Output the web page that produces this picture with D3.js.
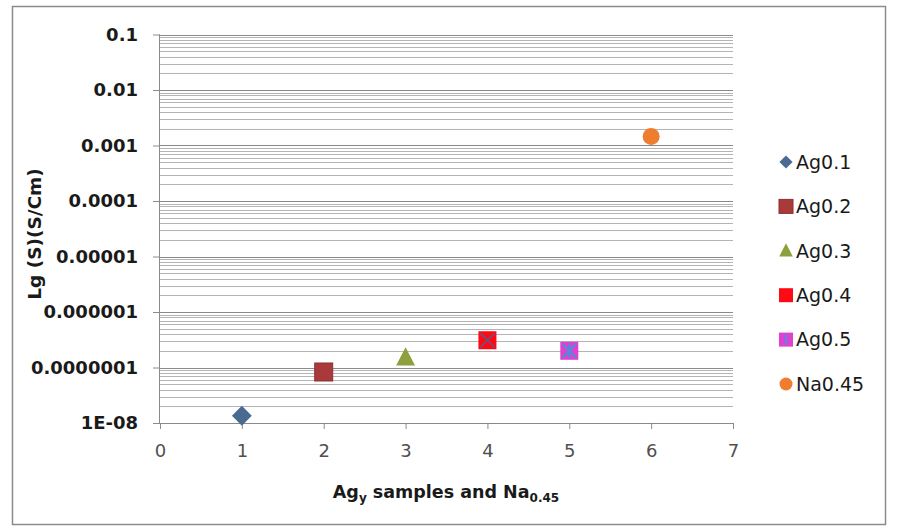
<!DOCTYPE html>
<html>
<head>
<meta charset="utf-8">
<script src="https://cdn.jsdelivr.net/npm/d3@7"></script>
<style>
  html, body { margin: 0; padding: 0; background: #fff; }
  svg { display: block; }
</style>
</head>
<body>
<svg id="chart" width="897" height="531"></svg>
<script>
// ---- data ----
const seriesNames = ["Ag0.1", "Ag0.2", "Ag0.3", "Ag0.4", "Ag0.5", "Na0.45"];
const xValues = [1, 2, 3, 4, 5, 6];
const yValues = [1.35e-8, 8.3e-8, 1.5e-7, 3.1e-7, 2.0e-7, 1.45e-3];
const xTicks = [0, 1, 2, 3, 4, 5, 6, 7];
const yTicks = [1e-8, 1e-7, 1e-6, 1e-5, 1e-4, 1e-3, 1e-2, 1e-1];
const yTickLabels = ["1E-08", "0.0000001", "0.000001", "0.00001", "0.0001", "0.001", "0.01", "0.1"];
const colors = ["#4A6A92", "#A83A3C", "#8CA03E", "#FF0A14", "#E040D0", "#EE7D2E"];
const shapes = ["diamond", "square", "triangle", "squareX", "squareStar", "circle"];

// ---- layout ----
const svg = d3.select("#chart");
const font = "'DejaVu Sans', sans-serif";
const plot = { left: 160, right: 733, top: 34.5, bottom: 423 };

svg.append("rect").attr("x", 12.5).attr("y", 6.5).attr("width", 873).attr("height", 518)
  .attr("fill", "#fff").attr("stroke", "#8c8c8c").attr("stroke-width", 1.5);

const x = d3.scaleLinear().domain([0, 7]).range([plot.left, plot.right]);
const y = d3.scaleLog().domain([1e-8, 1e-1]).range([plot.bottom, plot.top]);

// minor gridlines
const minor = [];
for (let e = -8; e < -1; e++) for (let m = 2; m <= 9; m++) minor.push(m * Math.pow(10, e));
svg.append("g").selectAll("line").data(minor).join("line")
  .attr("x1", plot.left).attr("x2", plot.right)
  .attr("y1", d => Math.round(y(d)) + 0.5).attr("y2", d => Math.round(y(d)) + 0.5)
  .attr("stroke", "#b4b4b4").attr("stroke-width", 1);

// major gridlines
svg.append("g").selectAll("line").data(yTicks.slice(1)).join("line")
  .attr("x1", plot.left).attr("x2", plot.right)
  .attr("y1", d => Math.round(y(d)) + 0.5).attr("y2", d => Math.round(y(d)) + 0.5)
  .attr("stroke", "#8a8a8a").attr("stroke-width", 1.2);

// y axis
const yAxis = d3.axisLeft(y).tickValues(yTicks)
  .tickFormat((d, i) => yTickLabels[i]).tickSize(7).tickPadding(15);
const gy = svg.append("g").attr("transform", `translate(${plot.left},0)`).call(yAxis);
gy.select(".domain").attr("stroke", "#8a8a8a").attr("d", `M-0.5,${plot.top}V${plot.bottom}`);
gy.selectAll(".tick line").attr("stroke", "#8a8a8a");
gy.selectAll(".tick text").attr("font-family", font).attr("font-weight", "bold")
  .attr("font-size", 18).attr("fill", "#1a1a1a");

// x axis
const xAxis = d3.axisBottom(x).tickValues(xTicks).tickFormat(d3.format("d"))
  .tickSize(6).tickPadding(15);
const gx = svg.append("g").attr("transform", `translate(0,${plot.bottom})`).call(xAxis);
gx.select(".domain").attr("stroke", "#8a8a8a").attr("d", `M${plot.left},0.5H${plot.right}`);
gx.selectAll(".tick line").attr("stroke", "#8a8a8a");
gx.selectAll(".tick text").attr("font-family", font).attr("font-size", 18).attr("fill", "#505050");

// marker drawing
function drawMarker(g, shape, color, s, legend) {
  if (shape === "diamond") {
    const h = s * 0.55;
    g.append("path").attr("d", `M0,${-h}L${h},0L0,${h}L${-h},0Z`).attr("fill", color);
  } else if (shape === "square") {
    g.append("rect").attr("x", -s / 2).attr("y", -s / 2).attr("width", s).attr("height", s)
      .attr("fill", color).attr("stroke", "#8e2f31").attr("stroke-width", 1);
  } else if (shape === "triangle") {
    const h = s * 0.5;
    g.append("path").attr("d", `M0,${-h}L${h * 0.9},${h * 0.75}L${-h * 0.9},${h * 0.75}Z`)
      .attr("fill", color);
  } else if (shape === "squareX") {
    g.append("rect").attr("x", -s / 2).attr("y", -s / 2).attr("width", s).attr("height", s)
      .attr("fill", color);
    if (!legend) {
      const h = s / 2 - 2;
      g.append("path").attr("d", `M${-h},${-h}L${h},${h}M${-h},${h}L${h},${-h}`)
        .attr("stroke", "#5b5a8c").attr("stroke-width", 1.5);
    }
  } else if (shape === "squareStar") {
    g.append("rect").attr("x", -s / 2).attr("y", -s / 2).attr("width", s).attr("height", s)
      .attr("fill", color);
    const h = s / 2 - 2;
    const d = legend ? `M0,${-h}V${h}` : `M${-h},${-h}L${h},${h}M${-h},${h}L${h},${-h}M0,${-h}V${h}`;
    g.append("path").attr("d", d).attr("stroke", "#4a8fd8").attr("stroke-width", 2);
  } else if (shape === "circle") {
    g.append("circle").attr("r", s / 2).attr("fill", color);
  }
}

// points
const pts = xValues.map((v, i) => ({ x: v, y: yValues[i], i }));
pts.forEach(p => {
  const g = svg.append("g").attr("transform", `translate(${x(p.x)},${y(p.y)})`);
  drawMarker(g, shapes[p.i], colors[p.i], [18, 18, 21, 18, 18, 17][p.i], false);
});

// legend
const legend = svg.append("g");
seriesNames.forEach((name, i) => {
  const ly = 162 + i * 44.4;
  const g = legend.append("g").attr("transform", `translate(786,${ly})`);
  drawMarker(g, shapes[i], colors[i], [12, 14, 15, 14, 14, 13][i], true);
  legend.append("text").attr("x", 796).attr("y", ly).attr("dy", "0.36em")
    .attr("font-family", font).attr("font-size", 19).attr("fill", "#1a1a1a").text(name);
});

// y title
svg.append("text")
  .attr("transform", `translate(41,234) rotate(-90)`)
  .attr("text-anchor", "middle")
  .attr("font-family", font).attr("font-weight", "bold").attr("font-size", 18.5)
  .attr("fill", "#1a1a1a").text("Lg (S)(S/Cm)");

// x title with subscripts
const xt = svg.append("text").attr("x", 446).attr("y", 498).attr("text-anchor", "middle")
  .attr("font-family", font).attr("font-weight", "bold").attr("font-size", 17.5).attr("fill", "#1a1a1a");
xt.append("tspan").text("Ag");
xt.append("tspan").attr("dy", 4).attr("font-size", 12).text("y");
xt.append("tspan").attr("dy", -4).text(" samples and Na");
xt.append("tspan").attr("dy", 4).attr("font-size", 12).text("0.45");
</script>
</body>
</html>
